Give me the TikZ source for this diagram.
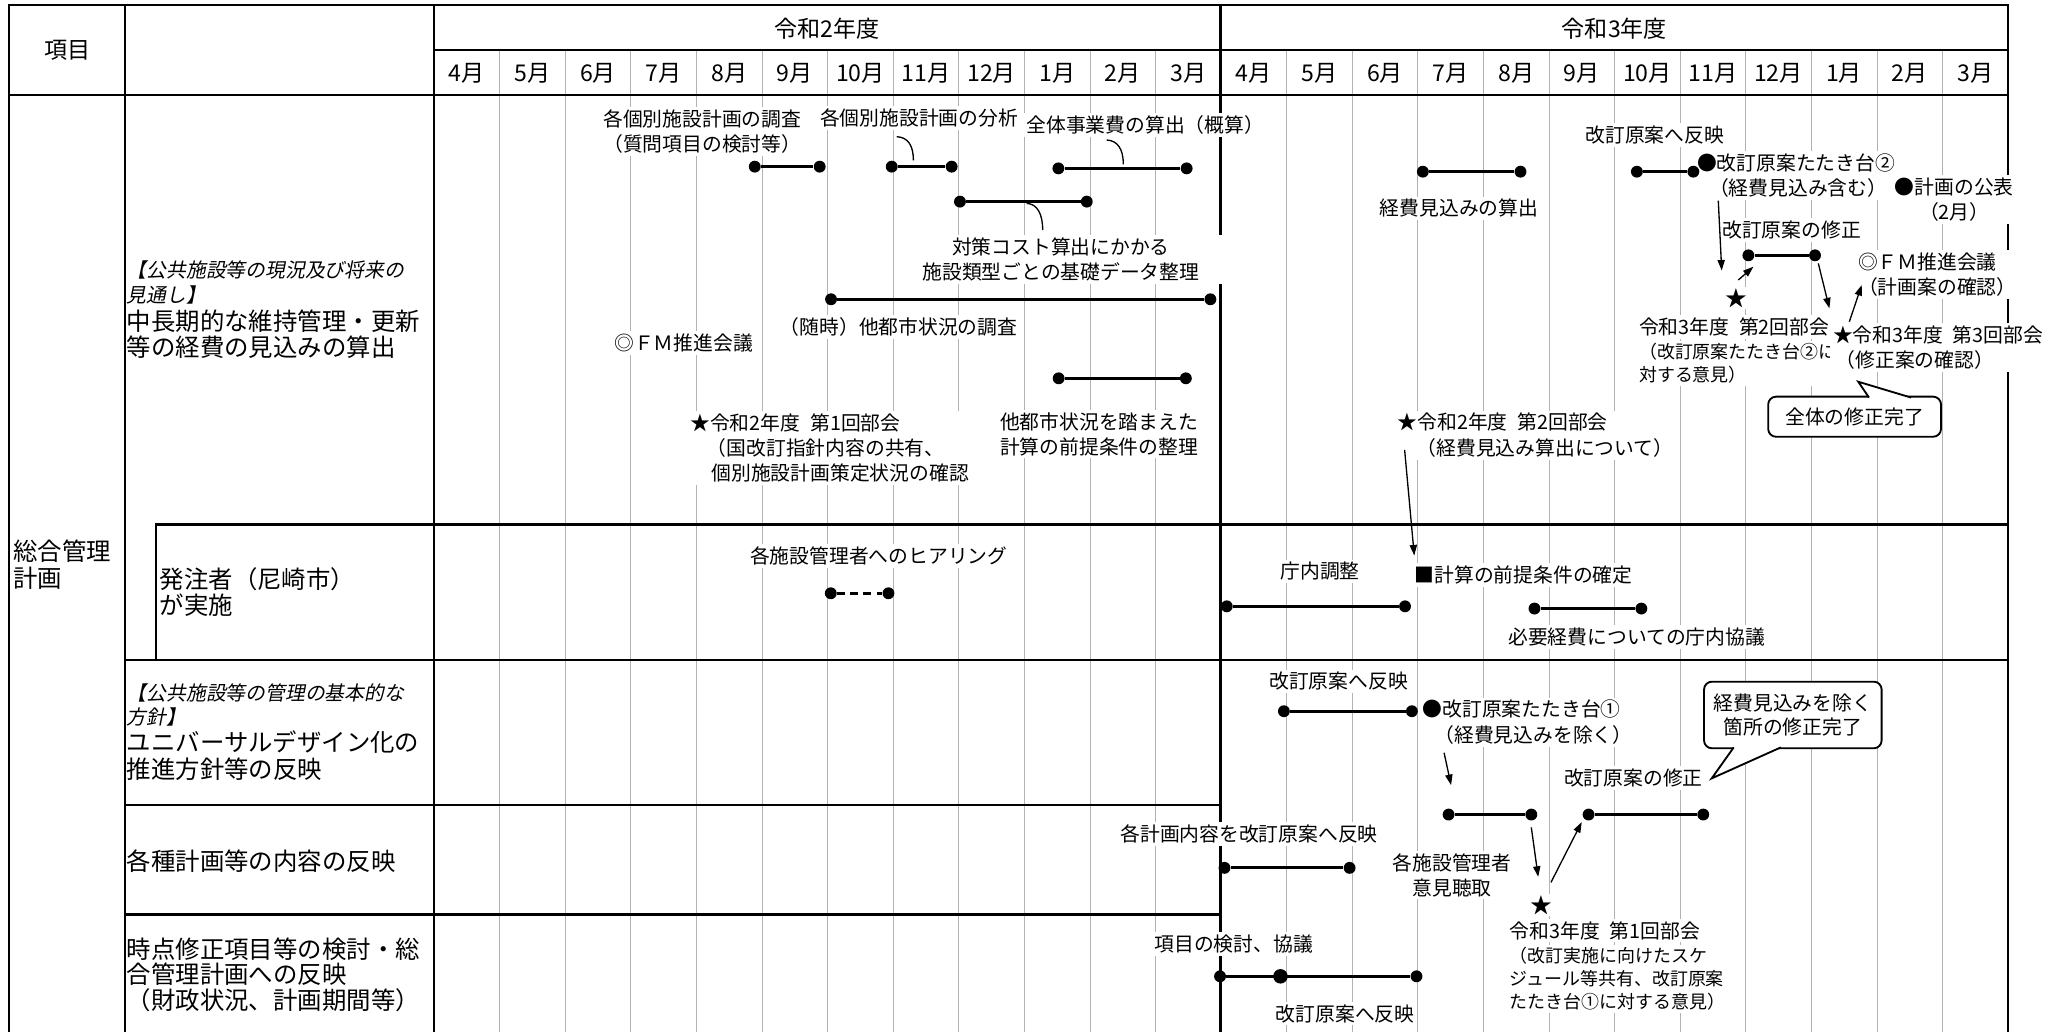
\documentclass[tikz,border=0pt]{standalone}
\usepackage{fontspec}
\setmainfont{Noto Sans CJK JP}
\newfontfamily\itjp[FakeSlant=0.2]{Noto Sans CJK JP}
\usetikzlibrary{arrows.meta}

\begin{document}
\begin{tikzpicture}[x=1pt,y=-1pt,
  major/.style={line width=1.7pt, line cap=rect},
  minor/.style={line width=0.6pt, draw=black!30},
  hdr/.style={font=\fontsize{17.5}{20}\selectfont, inner sep=0pt},
  lab/.style={font=\fontsize{18.5}{19.5}\selectfont, inner sep=0pt, anchor=west, align=left},
  labit/.style={font=\itjp\fontsize{15}{19}\selectfont, inner sep=0pt, anchor=west, align=left},
  ann/.style={font=\fontsize{15}{19}\selectfont, inner xsep=2pt, inner ysep=2pt, fill=white, align=center},
  annl/.style={ann, align=left, anchor=west},
  smallann/.style={font=\fontsize{13.6}{17.4}\selectfont, inner xsep=2pt, inner ysep=2pt, fill=white, align=left, anchor=west},
  starmark/.style={font=\fontsize{16.5}{18}\selectfont, inner sep=1pt, fill=white},
  dot/.style={circle, fill=black, inner sep=0pt, minimum size=9pt},
  bigdot/.style={circle, fill=black, inner sep=0pt, minimum size=11pt},
  bar/.style={line width=2.4pt},
  dbar/.style={line width=2.4pt, dash pattern=on 6pt off 4pt},
  arr/.style={line width=1pt, -{Triangle[length=8pt,width=5.5pt]}},
  leader/.style={line width=1pt},
  callout/.style={draw, line width=1.4pt, rounded corners=6pt, fill=white, align=center, inner sep=0pt, font=\fontsize{15}{18}\selectfont},
  tail/.style={line width=1.4pt, line join=miter},
]
\useasboundingbox (0,0) rectangle (1568,782);

% ---------- month grid ----------
\foreach \i in {1,2,3,4,5,6,7,8,9,10,11,13,14,15,16,17,18,19,20,21,22,23}
  \draw[minor] ({329+49.7*\i},38) -- ({329+49.7*\i},782);

% ---------- table frame ----------
\draw[major] (7,4) -- (1522,4);
\draw[major] (329,38) -- (1522,38);
\draw[major] (7,72) -- (1522,72);
\draw[major] (118,397.5) -- (1522,397.5);
\draw[major] (95,500) -- (1522,500);
\draw[major] (95,610) -- (925,610);
\draw[major] (95,693) -- (925,693);
\draw[major] (7,4) -- (7,782);
\draw[major] (95,4) -- (95,782);
\draw[major] (329,4) -- (329,782);
\draw[major] (925,4) -- (925,782);
\draw[major] (1522,4) -- (1522,782);
\draw[major] (118,397.5) -- (118,500);

% ---------- header ----------
\node[hdr] (h0) at (51,38) {項目};
\node[hdr] (y2) at (627,21.5) {令和2年度};
\node[hdr] (y3) at (1223.5,21.5) {令和3年度};
\foreach \m [count=\i from 0] in {4,5,6,7,8,9,10,11,12,1,2,3,4,5,6,7,8,9,10,11,12,1,2,3}
  \node[hdr] (m\i) at ({329+49.7*(\i+0.5)},55.5) {\m{}月};

% ---------- row labels ----------
\node[lab, font=\fontsize{18.5}{20.6}\selectfont] (L0) at (10,427.7) {総合管理\\計画};
\node[labit] (L1a) at (96,214.1) {【公共施設等の現況及び将来の\\見通し】};
\node[lab] (L1b) at (96,253.3) {中長期的な維持管理・更新\\等の経費の見込みの算出};
\node[lab] (L2) at (121,448.9) {発注者（尼崎市）\\が実施};
\node[labit, font=\itjp\fontsize{15}{18}\selectfont] (L3a) at (96,534.4) {【公共施設等の管理の基本的な\\方針】};
\node[lab, font=\fontsize{18.5}{20.6}\selectfont] (L3b) at (96,572.9) {ユニバーサルデザイン化の\\推進方針等の反映};
\node[lab] (L4) at (96,652.5) {各種計画等の内容の反映};
\node[lab] (L5) at (96,738.6) {時点修正項目等の検討・総\\合管理計画への反映\\（財政状況、計画期間等）};

% ---------- annotations: R2, row A ----------
\node[annl] (a1) at (455,99.5) {各個別施設計画の調査\\（質問項目の検討等）};
\node[ann] (a2) at (696.5,89.6) {各個別施設計画の分析};
\node[ann] (a3) at (868,94.7) {全体事業費の算出（概算）};
\node[ann, minimum width=246pt] (a4) at (804,196.5) {対策コスト算出にかかる\\施設類型ごとの基礎データ整理};
\node[ann] (a5) at (681,248) {（随時）他都市状況の調査};
\node[ann] (a6) at (518,260) {◎ＦＭ推進会議};
\node[ann] (a7) at (833,329) {他都市状況を踏まえた\\計算の前提条件の整理};
\node[annl] (a8) at (521,339.8) {★令和2年度\hspace{0.5em}第1回部会\\\hspace*{12.5pt}（国改訂指針内容の共有、\\\hspace*{16pt}個別施設計画策定状況の確認};

% ---------- annotations: R3, row A ----------
\node[ann] (b1) at (1254,102.3) {改訂原案へ反映};
\node[ann] (b2) at (1105.8,157.9) {経費見込みの算出};
\node[annl] (b3) at (1284,133.3) {●改訂原案たたき台②\\\hspace*{9pt}（経費見込み含む）};
\node[ann] (b4) at (1481,151) {●計画の公表\\（2月）};
\node[ann] (b5) at (1357.8,174.3) {改訂原案の修正};
\node[annl] (b6) at (1406,207.8) {◎ＦＭ推進会議\\（計画案の確認）};
\node[starmark] (b7) at (1315.7,226.1) {★};
\node[annl] (b8a) at (1240,247.6) {令和3年度\hspace{0.5em}第2回部会};
\node[smallann] (b8b) at (1240,275.4) {（改訂原案たたき台②に\\対する意見）};
\node[annl] (b9) at (1387,263.3) {★令和3年度\hspace{0.5em}第3回部会\\\hspace*{2pt}（修正案の確認）};
\node[annl] (b11) at (1057,329.7) {★令和2年度\hspace{0.5em}第2回部会\\\hspace*{14.5pt}（経費見込み算出について）};

% callout 1
\node[callout, minimum width=131pt, minimum height=30.4pt] (cb1) at (1405.5,315.8) {全体の修正完了};
\coordinate (cb1apex) at (1408.3,289.3);
\fill[white] (1415.9,302.2) -- (1415.9,300.6) -- (cb1apex) -- (1447.5,300.6) -- (1447.5,302.2) -- cycle;
\draw[tail] (1416.4,301.3) -- (cb1apex) -- (1448.3,301.3);

% ---------- row B ----------
\node[ann] (c1) at (666,421.3) {各施設管理者へのヒアリング};
\node[ann] (c2) at (1000.5,433) {庁内調整};
\node[annl] (c3) at (1070,436) {■計算の前提条件の確定};
\node[ann] (c4) at (1240.4,483) {必要経費についての庁内協議};

% ---------- row C ----------
\node[ann] (d1) at (1014.5,516.4) {改訂原案へ反映};
\node[annl] (d2) at (1076,547.2) {●改訂原案たたき台①\\\hspace*{9pt}（経費見込みを除く）};
\node[ann] (d3) at (1237.8,589.6) {改訂原案の修正};
\node[callout, minimum width=134.6pt, minimum height=50.5pt] (cb2) at (1358.7,541.85) {経費見込みを除く\\箇所の修正完了};
\coordinate (cb2apex) at (1297.2,589.9);
\fill[white] (1313.6,565.9) -- (1313.6,567.1) -- (cb2apex) -- (1349,567.1) -- (1349,565.9) -- cycle;
\draw[tail] (1313.9,566.4) -- (cb2apex) -- (1349.6,566.4);

% ---------- row D ----------
\node[ann] (e1) at (946.6,632) {各計画内容を改訂原案へ反映};
\node[ann] (e2) at (1100.5,663.2) {各施設管理者\\意見聴取};
\node[starmark] (e3s) at (1168.4,685.9) {★};
\node[annl] (e3a) at (1142,705.2) {令和3年度\hspace{0.5em}第1回部会};
\node[smallann] (e3b) at (1142,741.85) {（改訂実施に向けたスケ\\ジュール等共有、改訂原案\\たたき台①に対する意見）};

% ---------- row E ----------
\node[ann] (f1) at (935,715.5) {項目の検討、協議};
\node[ann] (f2) at (1019.5,768.2) {改訂原案へ反映};

% ---------- bars ----------
\node[dot] (p1s) at (572,126.3) {};   \node[dot] (p1e) at (621.2,126.3) {};
\node[dot] (p2s) at (675.8,126.3) {}; \node[dot] (p2e) at (721.2,126.3) {};
\node[dot] (p3s) at (802.1,127.6) {}; \node[dot] (p3e) at (899.3,127.6) {};
\node[dot] (p4s) at (727.5,152.8) {}; \node[dot] (p4e) at (823.6,152.8) {};
\node[dot] (p5s) at (629.8,226.8) {}; \node[dot] (p5e) at (917.3,226.8) {};
\node[dot] (p6s) at (802.3,286.7) {}; \node[dot] (p6e) at (898.7,286.7) {};
\draw[bar] (p1s) -- (p1e);
\draw[bar] (p2s) -- (p2e);
\draw[bar] (p3s) -- (p3e);
\draw[bar] (p4s) -- (p4e);
\draw[bar] (p5s) -- (p5e);
\draw[bar] (p6s) -- (p6e);

\node[dot] (r1s) at (1078.3,130.1) {}; \node[dot] (r1e) at (1152.3,130.1) {};
\node[dot] (r2s) at (1240.5,130.1) {}; \node[dot] (r2e) at (1283.3,130.1) {};
\node[dot] (r3s) at (1325,193.5) {};   \node[dot] (r3e) at (1375.5,193.5) {};
\draw[bar] (r1s) -- (r1e);
\draw[bar] (r2s) -- (r2e);
\draw[bar] (r3s) -- (r3e);

\node[dot] (h1s) at (629.6,449.6) {}; \node[dot] (h1e) at (673.3,449.6) {};
\draw[dbar] (h1s) -- (h1e);
\node[dot] (t1s) at (929.7,459.5) {}; \node[dot] (t1e) at (1064.8,459.5) {};
\node[dot] (t2s) at (1162.9,461.2) {}; \node[dot] (t2e) at (1243.9,461.2) {};
\draw[bar] (t1s) -- (t1e);
\draw[bar] (t2s) -- (t2e);

\node[dot] (u1s) at (973,539) {};     \node[dot] (u1e) at (1070,539) {};
\node[dot] (u2s) at (1097.8,617.3) {}; \node[dot] (u2e) at (1160.5,617.3) {};
\node[dot] (u3s) at (1203.9,617.3) {}; \node[dot] (u3e) at (1290.8,617.3) {};
\draw[bar] (u1s) -- (u1e);
\draw[bar] (u2s) -- (u2e);
\draw[bar] (u3s) -- (u3e);

\node[dot] (w1s) at (928,657.7) {}; \node[dot] (w1e) at (1022.8,657.7) {};
\draw[bar] (w1s) -- (w1e);

\node[dot] (x1s) at (924.6,739.9) {};
\node[bigdot] (x1m) at (970.4,739.9) {};
\node[dot] (x1e) at (1073.5,739.9) {};
\draw[bar] (x1s) -- (x1e);

% ---------- leader curves ----------
\coordinate (q1a) at (679.6,103.6); \coordinate (q1b) at (692.2,121.5);
\draw[leader] (q1a) .. controls (688,104) and (692.2,110) .. (q1b);
\coordinate (q2a) at (838.7,106.1); \coordinate (q2b) at (851.3,124.5);
\draw[leader] (q2a) .. controls (847,106.5) and (851.3,113) .. (q2b);
\coordinate (q3a) at (778,154.1); \coordinate (q3b) at (790.2,174.3);
\draw[leader] (q3a) .. controls (786,154.5) and (790.2,162) .. (q3b);

% ---------- arrows ----------
\coordinate (s1a) at (1302.2,152);   \coordinate (s1b) at (1304.8,205);
\coordinate (s2a) at (1317.4,212.2); \coordinate (s2b) at (1328.8,202.1);
\coordinate (s3a) at (1378,199.6);   \coordinate (s3b) at (1386.4,233.7);
\coordinate (s4a) at (1401.5,243.8); \coordinate (s4b) at (1410.9,216);
\coordinate (s5a) at (1064.5,341);   \coordinate (s5b) at (1071.8,421);
\draw[arr] (s1a) -- (s1b);
\draw[arr] (s2a) -- (s2b);
\draw[arr] (s3a) -- (s3b);
\draw[arr] (s4a) -- (s4b);
\draw[arr] (s5a) -- (s5b);

\coordinate (v1a) at (1094.4,570.5); \coordinate (v1b) at (1099.7,595);
\coordinate (v2a) at (1160.5,627);   \coordinate (v2b) at (1165.7,664.5);
\coordinate (v3a) at (1175.4,668.7); \coordinate (v3b) at (1198.7,623);
\draw[arr] (v1a) -- (v1b);
\draw[arr] (v2a) -- (v2b);
\draw[arr] (v3a) -- (v3b);
\end{tikzpicture}
\end{document}
